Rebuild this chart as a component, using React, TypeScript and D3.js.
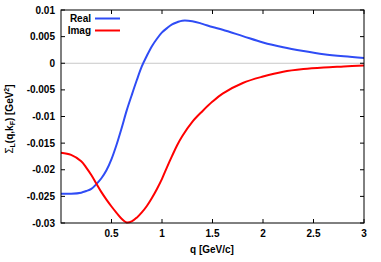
import React from "react";
import * as d3 from "d3";

const qValues = [0, 0.1, 0.2, 0.25, 0.3, 0.35, 0.4, 0.45, 0.5, 0.55, 0.6, 0.65, 0.7, 0.75, 0.8, 0.85, 0.9, 0.95, 1.0, 1.05, 1.1, 1.15, 1.2, 1.3, 1.4, 1.5, 1.6, 1.8, 2.0, 2.2, 2.4, 2.6, 2.8, 3.0];
const realValues = [-0.0245, -0.0245, -0.0243, -0.024, -0.0236, -0.0227, -0.0216, -0.0201, -0.018, -0.0153, -0.0122, -0.0089, -0.006, -0.0032, -0.0006, 0.0014, 0.0032, 0.0046, 0.0058, 0.0066, 0.0073, 0.0077, 0.008, 0.0079, 0.0074, 0.0068, 0.0063, 0.0051, 0.0039, 0.003, 0.0023, 0.0017, 0.0013, 0.001];
const imagValues = [-0.0168, -0.0172, -0.0184, -0.0196, -0.021, -0.0226, -0.0242, -0.0256, -0.0269, -0.0281, -0.0292, -0.0299, -0.0297, -0.029, -0.028, -0.0268, -0.0253, -0.0236, -0.0217, -0.0195, -0.0174, -0.0154, -0.0137, -0.011, -0.009, -0.0072, -0.0057, -0.0037, -0.0025, -0.0016, -0.0011, -0.0008, -0.0006, -0.0004];
const xTicks = [0.5, 1, 1.5, 2, 2.5, 3];
const yTicks = [0.01, 0.005, 0, -0.005, -0.01, -0.015, -0.02, -0.025, -0.03];
const seriesNames = ["Real", "Imag"];
const seriesColors = ["#2f4cf5", "#ff0000"];

const W = 381;
const H = 262;
const margin = { left: 61, right: 17, top: 10, bottom: 39 };
const font = "'Liberation Sans', Arial, sans-serif";

const App = () => {
  const x = d3.scaleLinear().domain([0, 3]).range([margin.left, W - margin.right]);
  const y = d3.scaleLinear().domain([-0.03, 0.01]).range([H - margin.bottom, margin.top]);
  const line = d3
    .line<number>()
    .x((d, i) => x(qValues[i]))
    .y((d) => y(d))
    .curve(d3.curveCatmullRom.alpha(0.5));
  const series = [realValues, imagValues];
  const x0 = margin.left;
  const x1 = W - margin.right;
  const y0 = H - margin.bottom;
  const y1 = margin.top;
  const tl = 4;

  return (
    <svg width={W} height={H} style={{ position: "absolute", left: 0, top: 0, background: "#fff" }} fontFamily={font}>
      <line x1={x0} x2={x1} y1={y(0)} y2={y(0)} stroke="#c8c8c8" strokeWidth={1} />
      {xTicks.map((t) => (
        <g key={"x" + t}>
          <line x1={x(t)} x2={x(t)} y1={y0} y2={y0 - tl} stroke="#000" />
          <line x1={x(t)} x2={x(t)} y1={y1} y2={y1 + tl} stroke="#000" />
          <text x={x(t)} y={237} textAnchor="middle" fontSize={10} fontWeight="bold" fill="#000">
            {t}
          </text>
        </g>
      ))}
      {yTicks.map((t) => (
        <g key={"y" + t}>
          <line x1={x0} x2={x0 + tl} y1={y(t)} y2={y(t)} stroke="#000" />
          <line x1={x1} x2={x1 - tl} y1={y(t)} y2={y(t)} stroke="#000" />
          <text x={55} y={y(t)} dy="0.35em" textAnchor="end" fontSize={10} fontWeight="bold" fill="#000">
            {t}
          </text>
        </g>
      ))}
      {series.map((s, i) => (
        <path key={i} d={line(s) || ""} fill="none" stroke={seriesColors[i]} strokeWidth={2} />
      ))}
      <rect x={x0} y={y1} width={x1 - x0} height={y0 - y1} fill="none" stroke="#000" strokeWidth={1} />
      {seriesNames.map((n, i) => (
        <g key={n}>
          <text x={91} y={22 + i * 12} textAnchor="end" fontSize={10} fontWeight="bold" fill="#000">
            {n}
          </text>
          <line x1={95} x2={120} y1={18.5 + i * 12} y2={18.5 + i * 12} stroke={seriesColors[i]} strokeWidth={2} />
        </g>
      ))}
      <text x={212} y={253} textAnchor="middle" fontSize={10} fontWeight="bold" fill="#000">
        q [GeV/c]
      </text>
      <text transform="translate(13,119) rotate(-90)" textAnchor="middle" fontSize={10} fontWeight="bold" fill="#000">
        <tspan fontWeight="normal">Σ</tspan>
        <tspan fontSize={7} dy={2}>L</tspan>
        <tspan dy={-2}>(q,k</tspan>
        <tspan fontSize={7} dy={2}>F</tspan>
        <tspan dy={-2}>) [GeV</tspan>
        <tspan fontSize={7} dy={-4}>2</tspan>
        <tspan dy={4}>]</tspan>
      </text>
    </svg>
  );
};

export default App;
